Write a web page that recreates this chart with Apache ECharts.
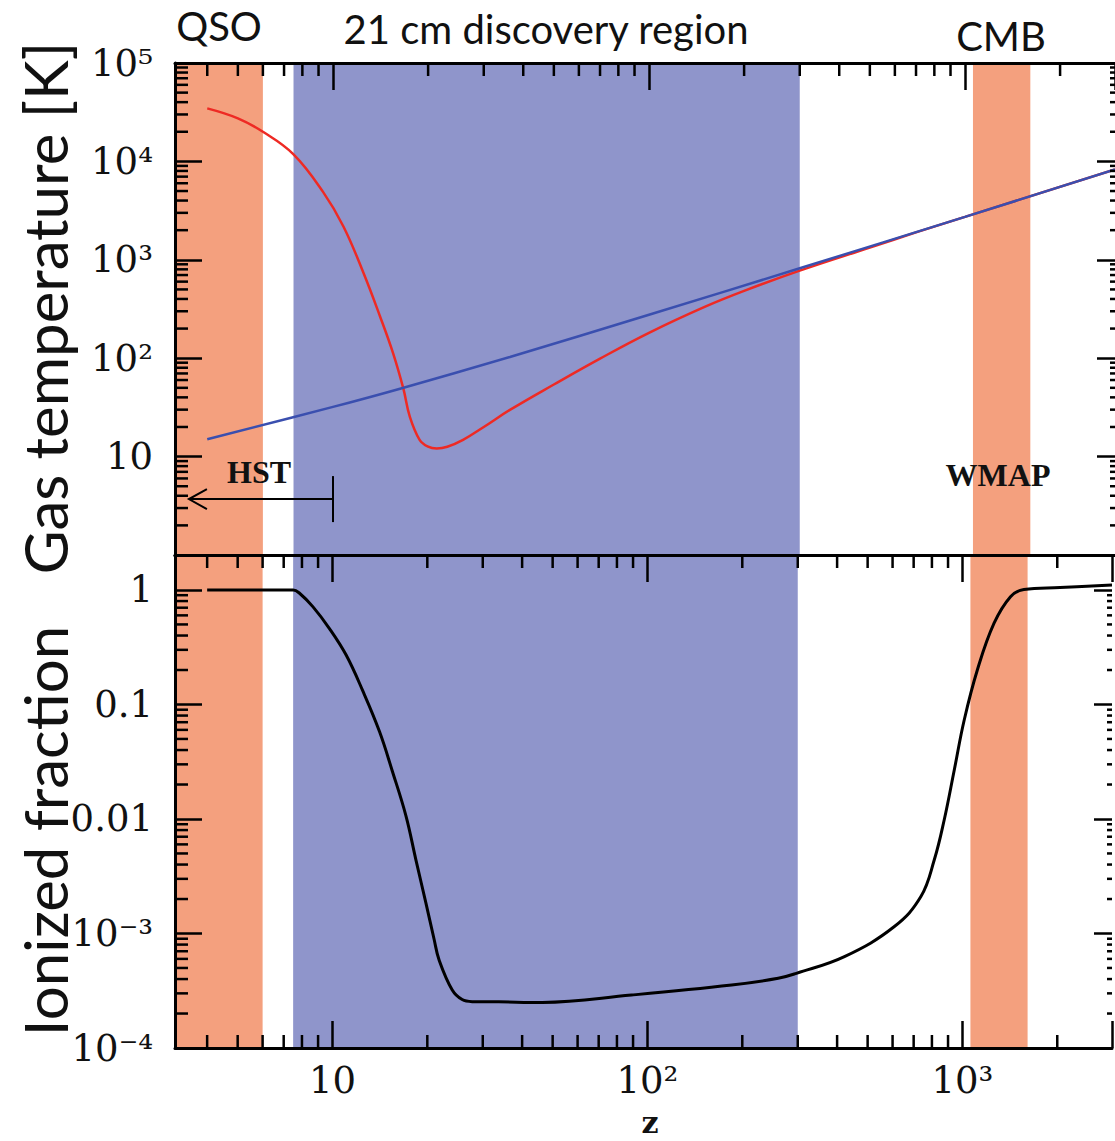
<!DOCTYPE html>
<html><head><meta charset="utf-8">
<script src="https://cdn.jsdelivr.net/npm/echarts@6/dist/echarts.min.js"></script>
<style>html,body{margin:0;padding:0;background:#fff}#c{width:1115px;height:1141px}</style>
</head><body><div id="c"></div>
<script>
// ---------------- data ----------------
const zRange = [3.1623, 2984];
const tempRange = [1, 100000];
const fracRange = [0.0001, 2.02];

// gas temperature (red)
const gasZ =    [4, 5, 6, 7.5, 9.3, 10.8, 12.5, 14.1, 15.5, 16.7, 17.5, 18.8, 20, 21.3, 23, 25.8, 30, 36.3, 50, 70, 100, 150, 200, 300, 500, 700, 1000, 2984];
const gasTemp = [34600, 27400, 20000, 11800, 4900, 2170, 730, 264, 112, 49, 25.5, 14.8, 12.6, 12.1, 12.6, 14.8, 20, 29.8, 54, 99, 181, 332, 483, 775, 1330, 1900, 2730, 8300];

// CMB temperature (blue line)
const cmbZ =    [4, 10, 16.3, 36.3, 100, 300, 1000, 2984];
const cmbTemp = [15, 32, 49, 103, 276, 820, 2730, 8300];

// ionized fraction (black)
const ionZ =    [4, 7.5, 7.86, 8.66, 9.78, 11.05, 12.47, 14.1, 15.5, 17.1, 18.4, 19.8, 21.0, 21.8, 24.0, 25.8, 27.8, 33.7, 46.3, 89, 185, 260, 297, 422, 608, 738, 814, 875, 942, 1013, 1115, 1259, 1421, 1567, 2040, 2984];
const ionFrac = [1.0, 1.0, 0.936, 0.715, 0.46, 0.27, 0.132, 0.058, 0.026, 0.0107, 0.0044, 0.00184, 0.00090, 0.000587, 0.000321, 0.000265, 0.000254, 0.000253, 0.000250, 0.00029, 0.000355, 0.000406, 0.000449, 0.000628, 0.00115, 0.0021, 0.0044, 0.0098, 0.0268, 0.0732, 0.2, 0.51, 0.874, 1.01, 1.05, 1.105];

// shaded z bands
const qsoBand = [3.1623, 6];
const discoveryBand = [7.5, 300];
const cmbBand = [1060, 1610];

// HST arrow (z range, temperature level)
const hstZ = [3.5, 10];
const hstLevel = 3.7;

// tick labels
const zTicks = [10, 100, 1000];
const zTickLabels = ['10', '10²', '10³'];
const tempTicks = [10, 100, 1000, 10000, 100000];
const tempTickLabels = ['10', '10²', '10³', '10⁴', '10⁵'];
const fracTicks = [1, 0.1, 0.01, 0.001, 0.0001];
const fracTickLabels = ['1', '0.1', '0.01', '10⁻³', '10⁻⁴'];

// minor ticks (2..9 in each decade)
function decadeMinors(fromExp, toExp, lo, hi) {
  const out = [];
  for (let e = fromExp; e <= toExp; e++) for (let m = 2; m <= 9; m++) {
    const v = m * Math.pow(10, e);
    if (v > lo * 1.0001 && v < hi * 0.9999) out.push(v);
  }
  return out;
}
const zMinorTicks = decadeMinors(0, 3, zRange[0], zRange[1]);
const tempMinorTicks = decadeMinors(0, 4, tempRange[0], tempRange[1]);
const fracMinorTicks = decadeMinors(-4, 0, fracRange[0], fracRange[1]);

// ---------------- chart ----------------
const chart = echarts.init(document.getElementById('c'), null, {renderer: 'svg'});

const BLACK = '#000';
const ORANGE = '#F4A07E';
const BANDBLUE = '#8F95CB';
const LABEL_FONT = 'DejaVu Serif';
const TITLE_FONT = 'Lato';

function labeler(ticks, labels) {
  return function (v) {
    for (let i = 0; i < ticks.length; i++) {
      if (Math.abs(Math.log10(v) - Math.log10(ticks[i])) < 1e-6) return labels[i];
    }
    return '';
  };
}

function axisBase(gridIndex, range, position, showLabel, ticks, labels, isX) {
  return {
    type: 'log', logBase: 10, gridIndex: gridIndex, position: position,
    min: range[0], max: range[1], z: 10,
    axisLine: {show: true, onZero: false, lineStyle: {color: BLACK, width: 3}},
    axisTick: {show: true, inside: true, length: 27, lineStyle: {color: BLACK, width: 2.5}},
    splitLine: {show: false}, minorTick: {show: false}, minorSplitLine: {show: false},
    axisLabel: showLabel ? {
      show: true, formatter: labeler(ticks, labels), showMinLabel: true, showMaxLabel: true,
      fontFamily: LABEL_FONT, fontSize: 37, color: '#111', margin: isX ? 14 : 22
    } : {show: false}
  };
}

function rightAxis(gridIndex, range) {
  const a = axisBase(gridIndex, range, 'right', false);
  a.axisLine = {show: false};
  a.axisTick = {show: true, inside: true, length: 18, lineStyle: {color: BLACK, width: 2.5}};
  return a;
}

const xAxes = [
  Object.assign(axisBase(0, zRange, 'bottom', false), {axisTick: {show: false}}),
  axisBase(0, zRange, 'top', false),
  axisBase(1, zRange, 'bottom', true, zTicks, zTickLabels, true),
  axisBase(1, zRange, 'top', false)
];
const yAxes = [
  axisBase(0, tempRange, 'left', true, tempTicks, tempTickLabels, false),
  rightAxis(0, tempRange),
  axisBase(1, fracRange, 'left', true, fracTicks, fracTickLabels, false),
  rightAxis(1, fracRange)
];

function bandSeries(xi, yi, yr) {
  return {
    type: 'custom', xAxisIndex: xi, yAxisIndex: yi, z: 1, silent: true, animation: false,
    data: [[qsoBand[0], qsoBand[1], 0], [discoveryBand[0], discoveryBand[1], 1], [cmbBand[0], cmbBand[1], 2]],
    renderItem: function (params, api) {
      const p0 = api.coord([api.value(0), yr[1]]);
      const p1 = api.coord([api.value(1), yr[0]]);
      const col = api.value(2) === 1 ? BANDBLUE : ORANGE;
      return {type: 'rect', shape: {x: p0[0], y: p0[1], width: p1[0] - p0[0], height: p1[1] - p0[1]},
              style: {fill: col}};
    }
  };
}

function xMinorSeries(xi, yi, yr, drawTop, drawBottom) {
  return {
    type: 'custom', xAxisIndex: xi, yAxisIndex: yi, z: 8, silent: true, animation: false,
    data: zMinorTicks.map(v => [v, yr[0]]),
    renderItem: function (params, api) {
      const v = api.value(0);
      const b = api.coord([v, yr[0]]);
      const t = api.coord([v, yr[1]]);
      const ch = [];
      if (drawTop) ch.push({type: 'line', shape: {x1: t[0], y1: t[1], x2: t[0], y2: t[1] + 13}, style: {stroke: BLACK, lineWidth: 2.5}});
      if (drawBottom) ch.push({type: 'line', shape: {x1: b[0], y1: b[1], x2: b[0], y2: b[1] - 13}, style: {stroke: BLACK, lineWidth: 2.5}});
      return {type: 'group', children: ch};
    }
  };
}

function yMinorSeries(xi, yi, ticks) {
  return {
    type: 'custom', xAxisIndex: xi, yAxisIndex: yi, z: 8, silent: true, animation: false,
    data: ticks.map(v => [zRange[0], v]),
    renderItem: function (params, api) {
      const v = api.value(1);
      const l = api.coord([zRange[0], v]);
      const r = api.coord([zRange[1], v]);
      return {type: 'group', children: [
        {type: 'line', shape: {x1: l[0], y1: l[1], x2: l[0] + 13, y2: l[1]}, style: {stroke: BLACK, lineWidth: 2.5}},
        {type: 'line', shape: {x1: r[0], y1: r[1], x2: r[0] - 5, y2: r[1]}, style: {stroke: BLACK, lineWidth: 2.5}}
      ]};
    }
  };
}

function zip(a, b) { return a.map((v, i) => [v, b[i]]); }

const series = [
  bandSeries(0, 0, tempRange),
  bandSeries(2, 2, fracRange),
  {
    name: 'Gas temperature', type: 'line', xAxisIndex: 0, yAxisIndex: 0, z: 3,
    data: zip(gasZ, gasTemp), showSymbol: false, smooth: 0.4,
    lineStyle: {color: '#EE2A24', width: 2.5}, animation: false
  },
  {
    name: 'CMB temperature', type: 'line', xAxisIndex: 0, yAxisIndex: 0, z: 4,
    data: zip(cmbZ, cmbTemp), showSymbol: false, smooth: 0.4,
    lineStyle: {color: '#3A4FAF', width: 2.5}, animation: false
  },
  {
    name: 'Ionized fraction', type: 'line', xAxisIndex: 2, yAxisIndex: 2, z: 3,
    data: zip(ionZ, ionFrac), showSymbol: false, smooth: 0.4,
    lineStyle: {color: BLACK, width: 3}, animation: false
  },
  {
    type: 'custom', xAxisIndex: 0, yAxisIndex: 0, z: 6, silent: true, animation: false,
    data: [[hstZ[0], hstLevel, hstZ[1]]],
    renderItem: function (params, api) {
      const a = api.coord([api.value(0), api.value(1)]);
      const b = api.coord([api.value(2), api.value(1)]);
      const st = {stroke: BLACK, lineWidth: 2, fill: null};
      return {type: 'group', children: [
        {type: 'line', shape: {x1: a[0], y1: a[1], x2: b[0], y2: b[1]}, style: st},
        {type: 'line', shape: {x1: b[0], y1: b[1] - 23, x2: b[0], y2: b[1] + 23}, style: st},
        {type: 'polyline', shape: {points: [[a[0] + 18, a[1] - 10], [a[0], a[1]], [a[0] + 18, a[1] + 10]]}, style: st}
      ]};
    }
  },
  xMinorSeries(0, 0, tempRange, true, false),
  xMinorSeries(2, 2, fracRange, true, true),
  yMinorSeries(0, 0, tempMinorTicks),
  yMinorSeries(2, 2, fracMinorTicks)
];

function txt(text, x, y, font, rot, vAlign) {
  const va = vAlign || 'middle';
  return {
    type: 'text', x: x, y: y, rotation: rot || 0, z: 20, silent: true,
    style: {text: text, font: font, fill: '#111', textAlign: 'center', textVerticalAlign: va, align: 'center', verticalAlign: va}
  };
}

const option = {
  backgroundColor: '#fff',
  animation: false,
  grid: [
    {left: 175, top: 63, right: 0, height: 492},
    {left: 175, top: 555, right: 0, height: 493}
  ],
  xAxis: xAxes,
  yAxis: yAxes,
  series: series,
  graphic: [
    txt('QSO', 219, 26, '40px ' + TITLE_FONT),
    txt('21 cm discovery region', 546, 29, '40px ' + TITLE_FONT),
    txt('CMB', 1001, 36, '40px ' + TITLE_FONT),
    txt('HST', 259, 472, 'bold 32px Liberation Serif'),
    txt('WMAP', 998, 475, 'bold 32px Liberation Serif'),
    txt('Gas temperature [K]', 45, 308, '60px ' + TITLE_FONT, Math.PI / 2),
    txt('Ionized fraction', 45, 831, '60px ' + TITLE_FONT, Math.PI / 2),
    txt('z', 650, 1137, 'bold 30px DejaVu Serif', 0, 'bottom')
  ]
};
chart.setOption(option);
</script></body></html>
